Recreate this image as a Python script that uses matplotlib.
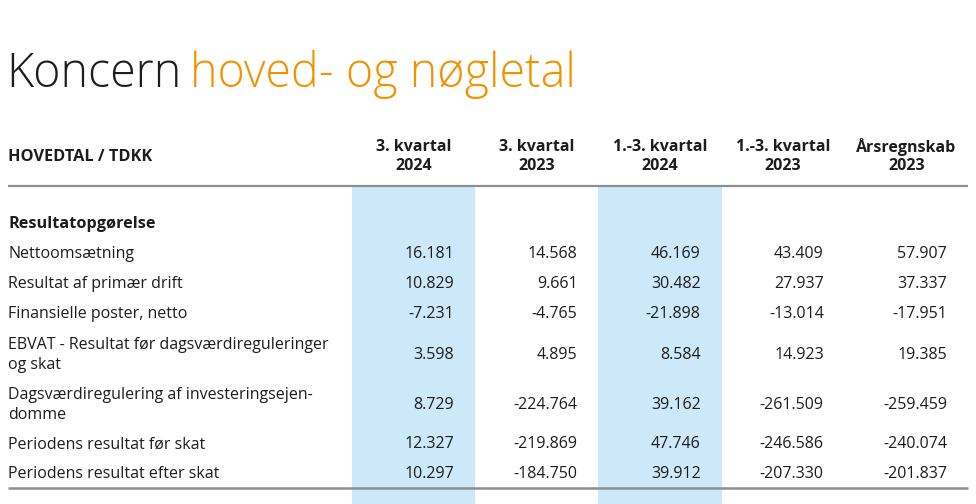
import matplotlib
matplotlib.use("Agg")
import matplotlib.pyplot as plt
from matplotlib.patches import Rectangle

title_dark = "Koncern"
title_orange = "hoved- og nøgletal"
corner_label = "HOVEDTAL / TDKK"
column_headers = ["3. kvartal\n2024", "3. kvartal\n2023", "1.-3. kvartal\n2024",
                  "1.-3. kvartal\n2023", "Årsregnskab\n2023"]
highlight_cols = [0, 2]
section_title = "Resultatopgørelse"
row_labels = [
    "Nettoomsætning",
    "Resultat af primær drift",
    "Finansielle poster, netto",
    "EBVAT - Resultat før dagsværdireguleringer\nog skat",
    "Dagsværdiregulering af investeringsejen-\ndomme",
    "Periodens resultat før skat",
    "Periodens resultat efter skat",
]
values = [
    ["16.181", "14.568", "46.169", "43.409", "57.907"],
    ["10.829", "9.661", "30.482", "27.937", "37.337"],
    ["-7.231", "-4.765", "-21.898", "-13.014", "-17.951"],
    ["3.598", "4.895", "8.584", "14.923", "19.385"],
    ["8.729", "-224.764", "39.162", "-261.509", "-259.459"],
    ["12.327", "-219.869", "47.746", "-246.586", "-240.074"],
    ["10.297", "-184.750", "39.912", "-207.330", "-201.837"],
]

W, H = 976, 504
fig = plt.figure(figsize=(W / 100, H / 100), dpi=100)
ax = fig.add_axes([0, 0, 1, 1])
ax.set_xlim(0, W)
ax.set_ylim(H, 0)
ax.axis("off")

FONT = "Open Sans"
TXT = "#1d1d1b"
ORANGE = "#F39200"
BLUE = "#CCE8F9"
GRAY = "#8f8f8f"

# Title
t1 = ax.text(6, 87, title_dark, fontsize=33.6, family=FONT, fontweight="light",
             color=TXT, va="baseline", ha="left")
fig.canvas.draw()
bb = t1.get_window_extent()
inv = ax.transData.inverted()
x_end = inv.transform((bb.x1, bb.y0))[0]
ax.text(x_end + 9, 87, title_orange, fontsize=33.6, family=FONT, fontweight="light",
        color=ORANGE, va="baseline", ha="left")

# Columns
col_left0 = 352
col_w = 123.2
ncol = len(column_headers)
col_lefts = [col_left0 + i * col_w for i in range(ncol)]

for i in highlight_cols:
    ax.add_patch(Rectangle((col_lefts[i], 187), col_w, H - 187, facecolor=BLUE,
                           edgecolor="none", zorder=0))

# Header
ax.text(8, 157, corner_label, fontsize=11.7, family=FONT, fontweight="bold",
        color=TXT, va="center", ha="left")
for i, hdr in enumerate(column_headers):
    lines = hdr.split("\n")
    cx = col_lefts[i] + col_w / 2
    for j, ln in enumerate(lines):
        ax.text(cx, 147 + j * 19.5, ln, fontsize=11.5, family=FONT, fontweight="bold",
                color=TXT, va="center", ha="center")

ax.plot([8, 968], [186, 186], color=GRAY, lw=1.6, solid_capstyle="butt")

# Section title
ax.text(8, 224, section_title, fontsize=11.7, family=FONT, fontweight="bold",
        color=TXT, va="center", ha="left")

row_centers = [254.5, 284.5, 314.5, 355, 405, 444.5, 474.5]
for r, lab in enumerate(row_labels):
    lines = lab.split("\n")
    yc = row_centers[r]
    n = len(lines)
    for j, ln in enumerate(lines):
        y = yc + (j - (n - 1) / 2) * 19.5
        ax.text(8, y, ln, fontsize=11.5, family=FONT, color=TXT,
                va="center", ha="left")
    for c in range(ncol):
        ax.text(col_lefts[c] + col_w - 21, yc, values[r][c], fontsize=11.5,
                family=FONT, color=TXT, va="center", ha="right")

ax.plot([8, 968], [488, 488], color=GRAY, lw=1.8, solid_capstyle="butt")

fig.savefig("out.png", dpi=100, facecolor="white")
